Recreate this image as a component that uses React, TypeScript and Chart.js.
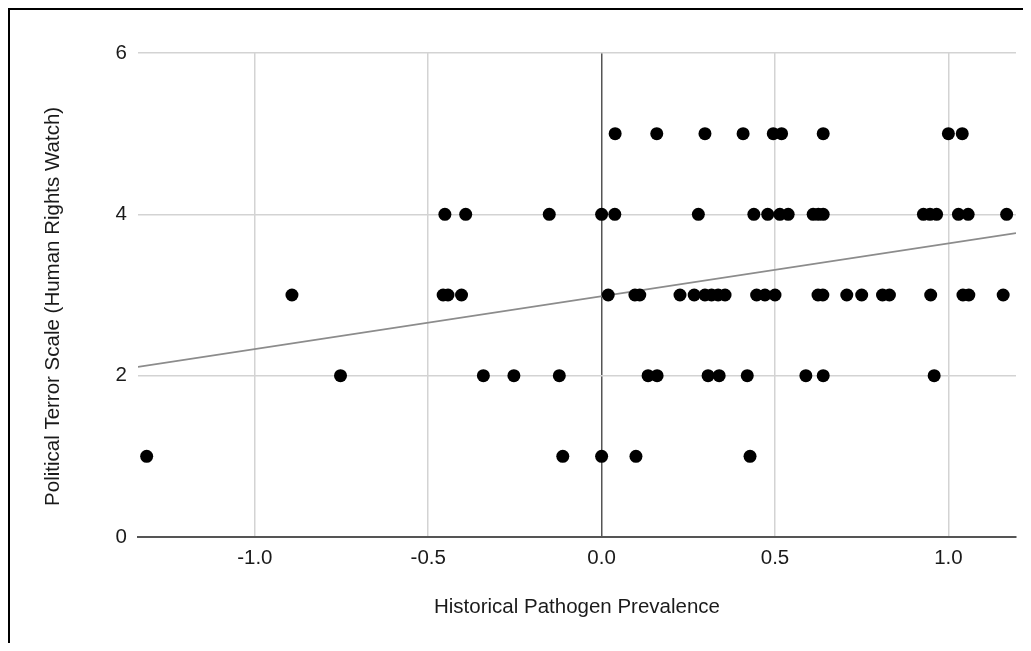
import React, { useEffect, useRef } from "react";
import { Chart, registerables } from "chart.js";

Chart.register(...registerables);

const xTitle = "Historical Pathogen Prevalence";
const yTitle = "Political Terror Scale (Human Rights Watch)";

const pointsX: number[] = [
  // score 5
  0.039, 0.159, 0.298, 0.408, 0.495, 0.519, 0.639, 1.0, 1.04,
  // score 4
  -0.452, -0.392, -0.151, 0.0, 0.038, 0.279, 0.439, 0.479, 0.514, 0.538, 0.61, 0.625, 0.639, 0.928, 0.947, 0.966, 1.029, 1.057, 1.168,
  // score 3
  -0.893, -0.457, -0.443, -0.404, 0.019, 0.096, 0.11, 0.226, 0.267, 0.298, 0.317, 0.336, 0.356, 0.447, 0.471, 0.5, 0.624, 0.638, 0.707, 0.75, 0.81, 0.83, 0.949, 1.042, 1.059, 1.158,
  // score 2
  -0.753, -0.341, -0.253, -0.122, 0.134, 0.16, 0.307, 0.339, 0.42, 0.589, 0.639, 0.959,
  // score 1
  -1.312, -0.112, 0.0, 0.099, 0.428,
];

const pointsY: number[] = [
  5, 5, 5, 5, 5, 5, 5, 5, 5,
  4, 4, 4, 4, 4, 4, 4, 4, 4, 4, 4, 4, 4, 4, 4, 4, 4, 4, 4,
  3, 3, 3, 3, 3, 3, 3, 3, 3, 3, 3, 3, 3, 3, 3, 3, 3, 3, 3, 3, 3, 3, 3, 3, 3, 3,
  2, 2, 2, 2, 2, 2, 2, 2, 2, 2, 2, 2,
  1, 1, 1, 1, 1,
];

const xRange = [-1.337, 1.195];
const yRange = [0, 6];
const xTickStep = 0.5;
const yTickStep = 2;

const trendIntercept = 2.985;
const trendSlope = 0.655;

const FONT = "'Liberation Sans', Arial, Helvetica, sans-serif";
const FONT_SIZE = 20.5;

export default function App() {
  const ref = useRef<HTMLCanvasElement | null>(null);

  useEffect(() => {
    if (!ref.current) return;
    const scatterData = pointsX.map((x, i) => ({ x, y: pointsY[i] }));
    const trendData = xRange.map((x) => ({ x, y: trendIntercept + trendSlope * x }));

    const chart = new Chart(ref.current, {
      type: "scatter",
      data: {
        datasets: [
          {
            label: "Points",
            data: scatterData,
            backgroundColor: "#000000",
            borderColor: "#000000",
            borderWidth: 0,
            pointRadius: 6.5,
            pointHoverRadius: 6.5,
          },
          {
            type: "line",
            label: "Trend",
            data: trendData,
            borderColor: "#8c8c8c",
            borderWidth: 1.6,
            pointRadius: 0,
            showLine: true,
            fill: false,
          } as any,
        ],
      },
      options: {
        responsive: false,
        animation: false,
        layout: { padding: { left: 0, top: 43, right: 15, bottom: 0 } },
        plugins: {
          legend: { display: false },
          tooltip: { enabled: false },
        },
        scales: {
          x: {
            type: "linear",
            min: xRange[0],
            max: xRange[1],
            afterFit: (axis: any) => {
              axis.height = 114;
            },
            ticks: {
              stepSize: xTickStep,
              includeBounds: false,
              padding: 9,
              color: "#1a1a1a",
              font: { family: FONT, size: FONT_SIZE },
              callback: (v: any) => Number(v).toFixed(1),
            },
            grid: {
              drawTicks: false,
              lineWidth: 1.5,
              color: (ctx: any) => (ctx.tick && Math.abs(ctx.tick.value) < 1e-9 ? "#555555" : "#d3d3d3"),
            },
            border: { display: true, color: "#555555", width: 2 },
            title: {
              display: true,
              text: xTitle,
              color: "#1a1a1a",
              font: { family: FONT, size: FONT_SIZE },
              padding: { top: 0, bottom: 31 },
            },
          },
          y: {
            type: "linear",
            min: yRange[0],
            max: yRange[1],
            afterFit: (axis: any) => {
              axis.width = 128;
            },
            ticks: {
              stepSize: yTickStep,
              padding: 11,
              color: "#1a1a1a",
              font: { family: FONT, size: FONT_SIZE },
            },
            grid: {
              drawTicks: false,
              lineWidth: 1.5,
              color: "#d3d3d3",
            },
            border: { display: false },
            title: {
              display: true,
              text: yTitle + "    ",
              color: "#1a1a1a",
              font: { family: FONT, size: FONT_SIZE },
              padding: { top: 31, bottom: 0 },
            },
          },
        },
      },
    });
    return () => chart.destroy();
  }, []);

  return (
    <div
      style={{
        borderTop: "2px solid #000",
        borderLeft: "2px solid #000",
        width: 1021,
        height: 641,
        marginBottom: -8,
        background: "#fff",
      }}
    >
      <canvas ref={ref} width={1021} height={641} style={{ display: "block" }} />
    </div>
  );
}
